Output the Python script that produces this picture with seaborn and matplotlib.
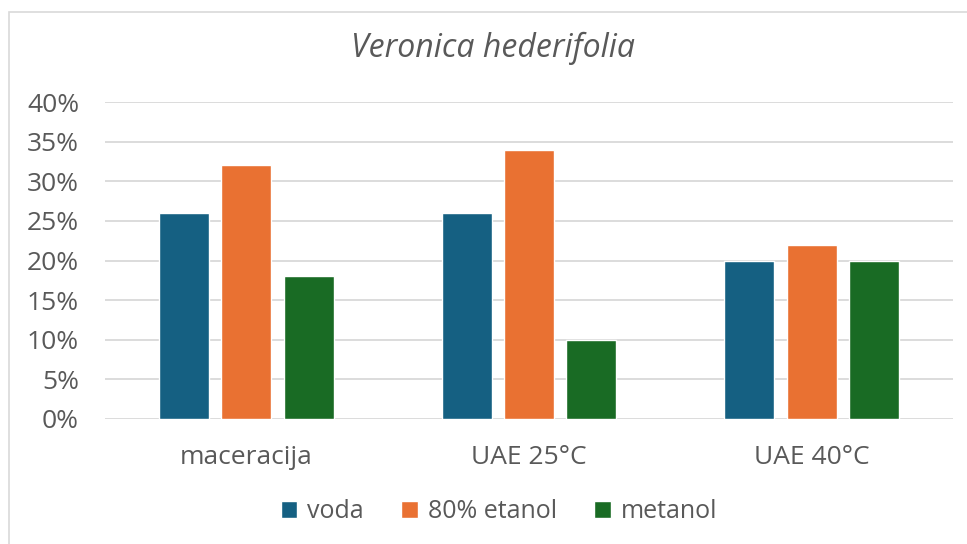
import pandas as pd
import matplotlib
matplotlib.use("Agg")
import matplotlib.pyplot as plt
import seaborn as sns
from matplotlib.ticker import PercentFormatter
from matplotlib.patches import Rectangle

# data
categories = ["maceracija", "UAE 25°C", "UAE 40°C"]
solvents = ["voda", "80% etanol", "metanol"]
voda = [0.26, 0.26, 0.20]
etanol_80 = [0.32, 0.34, 0.22]
metanol = [0.18, 0.10, 0.20]
y_ticks = [0.0, 0.05, 0.10, 0.15, 0.20, 0.25, 0.30, 0.35, 0.40]

colors = ["#156082", "#E97132", "#196B24"]
grey = "#595959"

df = pd.DataFrame({
    "metoda": categories * 3,
    "otapalo": [s for s in solvents for _ in categories],
    "udio": voda + etanol_80 + metanol,
})

sns.set_theme(style="white")
plt.rcParams["font.family"] = ["Open Sans", "DejaVu Sans"]

fig = plt.figure(figsize=(9.67, 5.44), dpi=100)
ax = fig.add_axes([105 / 967, 1 - 419 / 544, (953 - 105) / 967, (419 - 102) / 544])

sns.barplot(data=df, x="metoda", y="udio", hue="otapalo", order=categories,
            hue_order=solvents, palette=colors, width=0.663, gap=0.2,
            saturation=1, ax=ax, legend=True)

ax.set_xlim(-0.5, 2.5)
ax.set_ylim(0, 0.40)
ax.set_yticks(y_ticks)
ax.yaxis.set_major_formatter(PercentFormatter(1.0, decimals=0))
ax.grid(axis="y", color="#d9d9d9", linewidth=1.3)
ax.set_axisbelow(True)
for s in ax.spines.values():
    s.set_visible(False)
ax.tick_params(axis="both", length=0, labelsize=19, labelcolor=grey)
ax.tick_params(axis="y", pad=18.7)
ax.tick_params(axis="x", pad=19)
ax.set_xlabel("")
ax.set_ylabel("")

fig.text(493 / 967, 1 - 48 / 544, "Veronica hederifolia", ha="center", va="center",
         fontsize=23, style="italic", color=grey)

handles, labels = ax.get_legend_handles_labels()
ax.get_legend().remove()
fig.legend(handles, labels, loc="center", bbox_to_anchor=(499 / 967, 1 - 512 / 544),
           ncol=3, frameon=False, fontsize=18, labelcolor=grey,
           handlelength=0.65, handleheight=0.65, handletextpad=0.4, columnspacing=1.5)

# chart area border (only left and top visible in the crop)
fig.patches.append(Rectangle((9 / 967, -0.05), 1.1, 1 - 12 / 544 + 0.05,
                             transform=fig.transFigure, fill=False,
                             edgecolor="#d9d9d9", linewidth=1.2))

fig.savefig("out.png", dpi=100)
